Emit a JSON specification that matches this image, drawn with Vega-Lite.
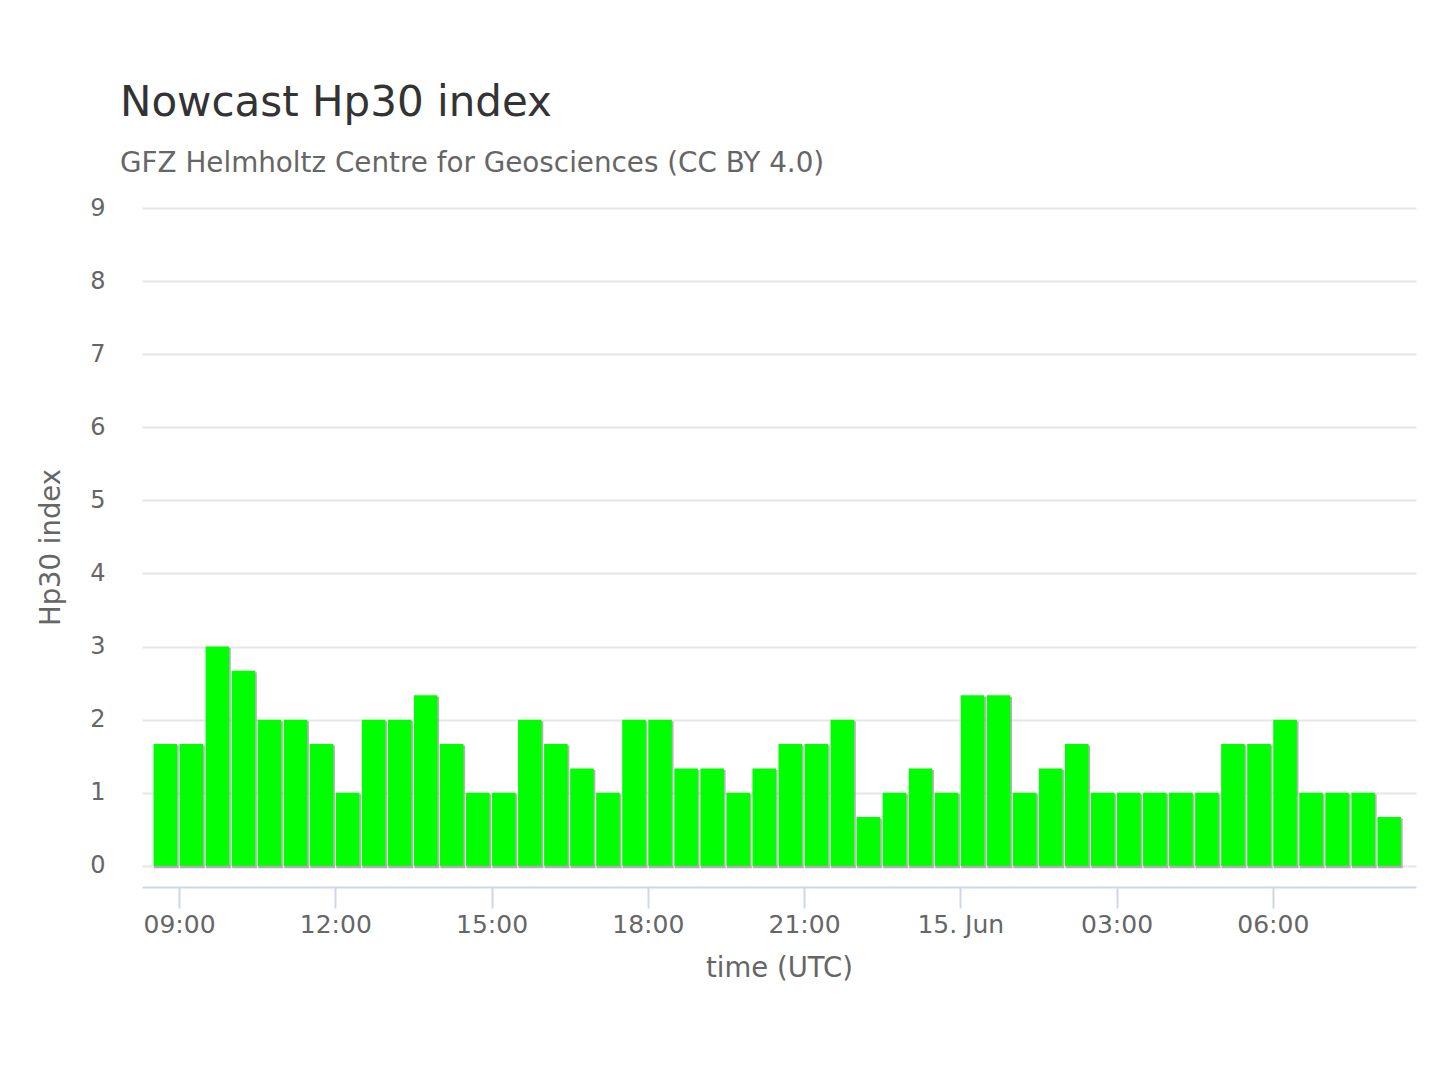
{
  "$schema": "https://vega.github.io/schema/vega-lite/v6.json",
  "width": 1274,
  "height": 679,
  "autosize": "none",
  "padding": {"left": 142, "top": 208, "right": 24, "bottom": 193},
  "background": "white",
  "config": {
    "view": {"stroke": null}
  },
  "title": {
    "text": "Nowcast Hp30 index",
    "subtitle": "GFZ Helmholtz Centre for Geosciences (CC BY 4.0)",
    "anchor": "start",
    "frame": "group",
    "dx": -22,
    "offset": 17,
    "font": "DejaVu Sans",
    "fontSize": 42,
    "fontWeight": "normal",
    "color": "#333333",
    "subtitleFont": "DejaVu Sans",
    "subtitleFontSize": 27.8,
    "subtitleColor": "#666666",
    "subtitlePadding": 25
  },
  "data": {
    "values": [
      {"start": "2024-06-14T08:30:00Z", "end": "2024-06-14T09:00:00Z", "hp30": 1.667},
      {"start": "2024-06-14T09:00:00Z", "end": "2024-06-14T09:30:00Z", "hp30": 1.667},
      {"start": "2024-06-14T09:30:00Z", "end": "2024-06-14T10:00:00Z", "hp30": 3.0},
      {"start": "2024-06-14T10:00:00Z", "end": "2024-06-14T10:30:00Z", "hp30": 2.667},
      {"start": "2024-06-14T10:30:00Z", "end": "2024-06-14T11:00:00Z", "hp30": 2.0},
      {"start": "2024-06-14T11:00:00Z", "end": "2024-06-14T11:30:00Z", "hp30": 2.0},
      {"start": "2024-06-14T11:30:00Z", "end": "2024-06-14T12:00:00Z", "hp30": 1.667},
      {"start": "2024-06-14T12:00:00Z", "end": "2024-06-14T12:30:00Z", "hp30": 1.0},
      {"start": "2024-06-14T12:30:00Z", "end": "2024-06-14T13:00:00Z", "hp30": 2.0},
      {"start": "2024-06-14T13:00:00Z", "end": "2024-06-14T13:30:00Z", "hp30": 2.0},
      {"start": "2024-06-14T13:30:00Z", "end": "2024-06-14T14:00:00Z", "hp30": 2.333},
      {"start": "2024-06-14T14:00:00Z", "end": "2024-06-14T14:30:00Z", "hp30": 1.667},
      {"start": "2024-06-14T14:30:00Z", "end": "2024-06-14T15:00:00Z", "hp30": 1.0},
      {"start": "2024-06-14T15:00:00Z", "end": "2024-06-14T15:30:00Z", "hp30": 1.0},
      {"start": "2024-06-14T15:30:00Z", "end": "2024-06-14T16:00:00Z", "hp30": 2.0},
      {"start": "2024-06-14T16:00:00Z", "end": "2024-06-14T16:30:00Z", "hp30": 1.667},
      {"start": "2024-06-14T16:30:00Z", "end": "2024-06-14T17:00:00Z", "hp30": 1.333},
      {"start": "2024-06-14T17:00:00Z", "end": "2024-06-14T17:30:00Z", "hp30": 1.0},
      {"start": "2024-06-14T17:30:00Z", "end": "2024-06-14T18:00:00Z", "hp30": 2.0},
      {"start": "2024-06-14T18:00:00Z", "end": "2024-06-14T18:30:00Z", "hp30": 2.0},
      {"start": "2024-06-14T18:30:00Z", "end": "2024-06-14T19:00:00Z", "hp30": 1.333},
      {"start": "2024-06-14T19:00:00Z", "end": "2024-06-14T19:30:00Z", "hp30": 1.333},
      {"start": "2024-06-14T19:30:00Z", "end": "2024-06-14T20:00:00Z", "hp30": 1.0},
      {"start": "2024-06-14T20:00:00Z", "end": "2024-06-14T20:30:00Z", "hp30": 1.333},
      {"start": "2024-06-14T20:30:00Z", "end": "2024-06-14T21:00:00Z", "hp30": 1.667},
      {"start": "2024-06-14T21:00:00Z", "end": "2024-06-14T21:30:00Z", "hp30": 1.667},
      {"start": "2024-06-14T21:30:00Z", "end": "2024-06-14T22:00:00Z", "hp30": 2.0},
      {"start": "2024-06-14T22:00:00Z", "end": "2024-06-14T22:30:00Z", "hp30": 0.667},
      {"start": "2024-06-14T22:30:00Z", "end": "2024-06-14T23:00:00Z", "hp30": 1.0},
      {"start": "2024-06-14T23:00:00Z", "end": "2024-06-14T23:30:00Z", "hp30": 1.333},
      {"start": "2024-06-14T23:30:00Z", "end": "2024-06-15T00:00:00Z", "hp30": 1.0},
      {"start": "2024-06-15T00:00:00Z", "end": "2024-06-15T00:30:00Z", "hp30": 2.333},
      {"start": "2024-06-15T00:30:00Z", "end": "2024-06-15T01:00:00Z", "hp30": 2.333},
      {"start": "2024-06-15T01:00:00Z", "end": "2024-06-15T01:30:00Z", "hp30": 1.0},
      {"start": "2024-06-15T01:30:00Z", "end": "2024-06-15T02:00:00Z", "hp30": 1.333},
      {"start": "2024-06-15T02:00:00Z", "end": "2024-06-15T02:30:00Z", "hp30": 1.667},
      {"start": "2024-06-15T02:30:00Z", "end": "2024-06-15T03:00:00Z", "hp30": 1.0},
      {"start": "2024-06-15T03:00:00Z", "end": "2024-06-15T03:30:00Z", "hp30": 1.0},
      {"start": "2024-06-15T03:30:00Z", "end": "2024-06-15T04:00:00Z", "hp30": 1.0},
      {"start": "2024-06-15T04:00:00Z", "end": "2024-06-15T04:30:00Z", "hp30": 1.0},
      {"start": "2024-06-15T04:30:00Z", "end": "2024-06-15T05:00:00Z", "hp30": 1.0},
      {"start": "2024-06-15T05:00:00Z", "end": "2024-06-15T05:30:00Z", "hp30": 1.667},
      {"start": "2024-06-15T05:30:00Z", "end": "2024-06-15T06:00:00Z", "hp30": 1.667},
      {"start": "2024-06-15T06:00:00Z", "end": "2024-06-15T06:30:00Z", "hp30": 2.0},
      {"start": "2024-06-15T06:30:00Z", "end": "2024-06-15T07:00:00Z", "hp30": 1.0},
      {"start": "2024-06-15T07:00:00Z", "end": "2024-06-15T07:30:00Z", "hp30": 1.0},
      {"start": "2024-06-15T07:30:00Z", "end": "2024-06-15T08:00:00Z", "hp30": 1.0},
      {"start": "2024-06-15T08:00:00Z", "end": "2024-06-15T08:30:00Z", "hp30": 0.667}
    ],
    "format": {"parse": {"start": "date", "end": "date"}}
  },
  "encoding": {
    "x": {
      "field": "start",
      "type": "temporal",
      "scale": {
        "type": "utc",
        "domain": [
          {"year": 2024, "month": 6, "date": 14, "hours": 8, "minutes": 17, "seconds": 20, "utc": true},
          {"year": 2024, "month": 6, "date": 15, "hours": 8, "minutes": 45, "seconds": 0, "utc": true}
        ],
        "nice": false
      },
      "axis": {
        "title": "time (UTC)",
        "values": [
          {"year": 2024, "month": 6, "date": 14, "hours": 9, "utc": true},
          {"year": 2024, "month": 6, "date": 14, "hours": 12, "utc": true},
          {"year": 2024, "month": 6, "date": 14, "hours": 15, "utc": true},
          {"year": 2024, "month": 6, "date": 14, "hours": 18, "utc": true},
          {"year": 2024, "month": 6, "date": 14, "hours": 21, "utc": true},
          {"year": 2024, "month": 6, "date": 15, "hours": 0, "utc": true},
          {"year": 2024, "month": 6, "date": 15, "hours": 3, "utc": true},
          {"year": 2024, "month": 6, "date": 15, "hours": 6, "utc": true}
        ],
        "format": "%H:%M",
        "labelExpr": "datum.label == '00:00' ? '15. Jun' : datum.label",
        "grid": false,
        "domainColor": "#ccd6eb",
        "domainWidth": 2,
        "tickColor": "#ccd6eb",
        "tickWidth": 2,
        "tickSize": 21,
        "labelPadding": 4,
        "labelFont": "DejaVu Sans",
        "labelFontSize": 25,
        "labelColor": "#666666",
        "labelFlush": false,
        "titleFont": "DejaVu Sans",
        "titleFontSize": 27.5,
        "titleFontWeight": "normal",
        "titleColor": "#666666",
        "titlePadding": 17
      }
    },
    "x2": {"field": "end"},
    "y": {
      "field": "hp30",
      "type": "quantitative",
      "scale": {"domain": [-0.29, 9], "nice": false, "zero": false},
      "axis": {
        "title": "Hp30 index",
        "values": [0, 1, 2, 3, 4, 5, 6, 7, 8, 9],
        "format": "d",
        "domain": false,
        "ticks": false,
        "grid": true,
        "gridColor": "#e6e6e6",
        "gridWidth": 2,
        "labelPadding": 37,
        "labelFont": "DejaVu Sans",
        "labelFontSize": 24,
        "labelColor": "#666666",
        "titleFont": "DejaVu Sans",
        "titleFontSize": 27.5,
        "titleFontWeight": "normal",
        "titleColor": "#666666",
        "titleAngle": -90,
        "titleX": -83,
        "titleY": 339,
        "titleAlign": "center",
        "titleBaseline": "alphabetic"
      }
    },
    "y2": {"datum": 0}
  },
  "layer": [
    {
      "mark": {"type": "bar", "fill": "#9a9a9a", "opacity": 0.75, "xOffset": 1, "x2Offset": -0.3, "yOffset": 1.5, "y2Offset": 2.5}
    },
    {
      "mark": {"type": "bar", "fill": "#00ff00", "xOffset": 0.5, "x2Offset": -2}
    }
  ]
}
